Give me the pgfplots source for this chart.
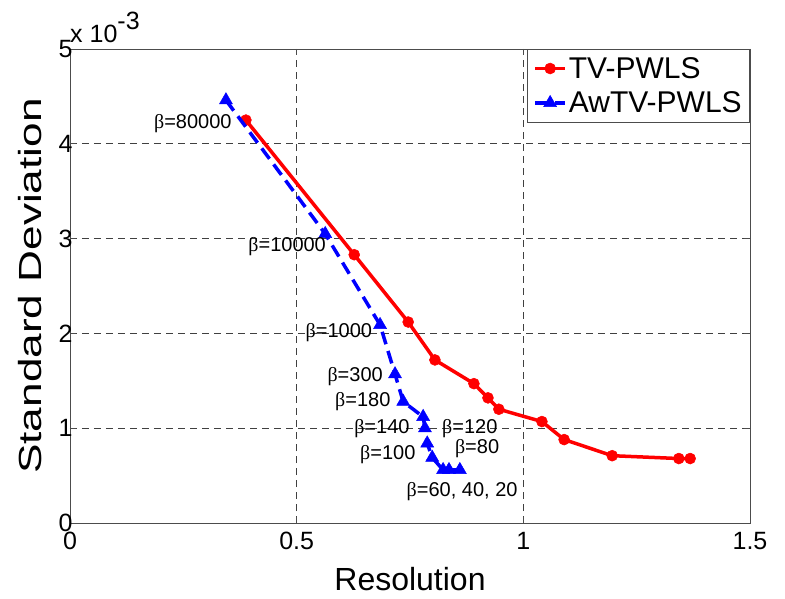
\documentclass[border=0pt]{standalone}
\usepackage{pgfplots}
\pgfplotsset{compat=1.18}
\usepackage{fontspec}
\setmainfont{Liberation Sans}
\newfontfamily\serifb{Liberation Serif}
\newcommand{\bb}{{\serifb β}}
\begin{document}
\begin{tikzpicture}
\begin{axis}[
 scale only axis, width=680bp, height=474bp,
 at={(0,0)}, anchor=south west,
 clip mode=individual,
 xmin=0, xmax=1.5, ymin=0, ymax=5,
 xtick={0,0.5,1,1.5}, ytick={0,1,2,3,4,5},
 xticklabels={0,0.5,1,1.5}, yticklabels={0,1,2,3,4,5},
 tick label style={font=\fontsize{25bp}{28bp}\selectfont},
 yticklabel style={xshift=6bp},
 xticklabel style={yshift=-6bp},
 grid=major,
 major grid style={black!75, line width=0.6bp, dash pattern=on 7bp off 5bp},
 axis line style={black!70, line width=0.8bp},
 tick style={black!70, line width=0.6bp},
 tick align=inside, major tick length=6bp,
 xlabel={Resolution}, ylabel={\scalebox{1.38}[1]{Standard Deviation}},
 label style={font=\fontsize{32bp}{36bp}\selectfont},
 xlabel style={yshift=-10bp},
 ylabel style={yshift=10bp},
 legend style={at={(1,1)}, anchor=north east, font=\fontsize{30bp}{34bp}\selectfont,
   draw=black!70, line width=0.6bp, inner xsep=6bp, inner ysep=6bp, row sep=8bp},
 legend cell align=left,
 legend image code/.code={\draw[mark repeat=2,mark phase=2] plot coordinates {(0bp,0bp) (15bp,0bp) (30bp,0bp)};},
]
\addplot[red, line width=3.5bp, mark=*, mark size=5.5bp, mark options={solid, line width=0.5bp}] coordinates {
 (0.388,4.25) (0.627,2.83) (0.746,2.12) (0.805,1.72) (0.891,1.47) (0.922,1.32)
 (0.946,1.20) (1.041,1.07) (1.090,0.88) (1.196,0.71) (1.343,0.68) (1.368,0.68)};
\addlegendentry{TV-PWLS}
\addplot[blue, line width=3.5bp, dash pattern=on 13bp off 7bp, mark=triangle*, mark size=7.5bp, mark options={solid, line width=0.5bp}] coordinates {
 (0.344,4.46) (0.563,3.05) (0.684,2.09) (0.717,1.57) (0.735,1.28) (0.779,1.12)
 (0.783,1.00) (0.788,0.84) (0.799,0.69) (0.823,0.56) (0.836,0.56) (0.860,0.56)};
\addlegendentry{AwTV-PWLS}
\begin{scope}[every node/.style={font=\fontsize{20bp}{22bp}\selectfont, inner sep=0pt}]
\node at (axis cs:0.271,4.21) {\bb=80000};
\node at (axis cs:0.479,2.92) {\bb=10000};
\node at (axis cs:0.593,2.01) {\bb=1000};
\node at (axis cs:0.629,1.54) {\bb=300};
\node at (axis cs:0.646,1.28) {\bb=180};
\node at (axis cs:0.688,1.00) {\bb=140};
\node at (axis cs:0.882,1.00) {\bb=120};
\node at (axis cs:0.701,0.72) {\bb=100};
\node at (axis cs:0.898,0.79) {\bb=80};
\node at (axis cs:0.865,0.33) {\bb=60, 40, 20};
\end{scope}
\node[anchor=base west, inner sep=0pt] at (rel axis cs:0,1) [yshift=6bp] {\fontsize{25bp}{28bp}\selectfont x 10\raisebox{13bp}{-3}};
\end{axis}
\path[use as bounding box] (-70bp,-76bp) rectangle (715bp,523bp);
\end{tikzpicture}
\end{document}
